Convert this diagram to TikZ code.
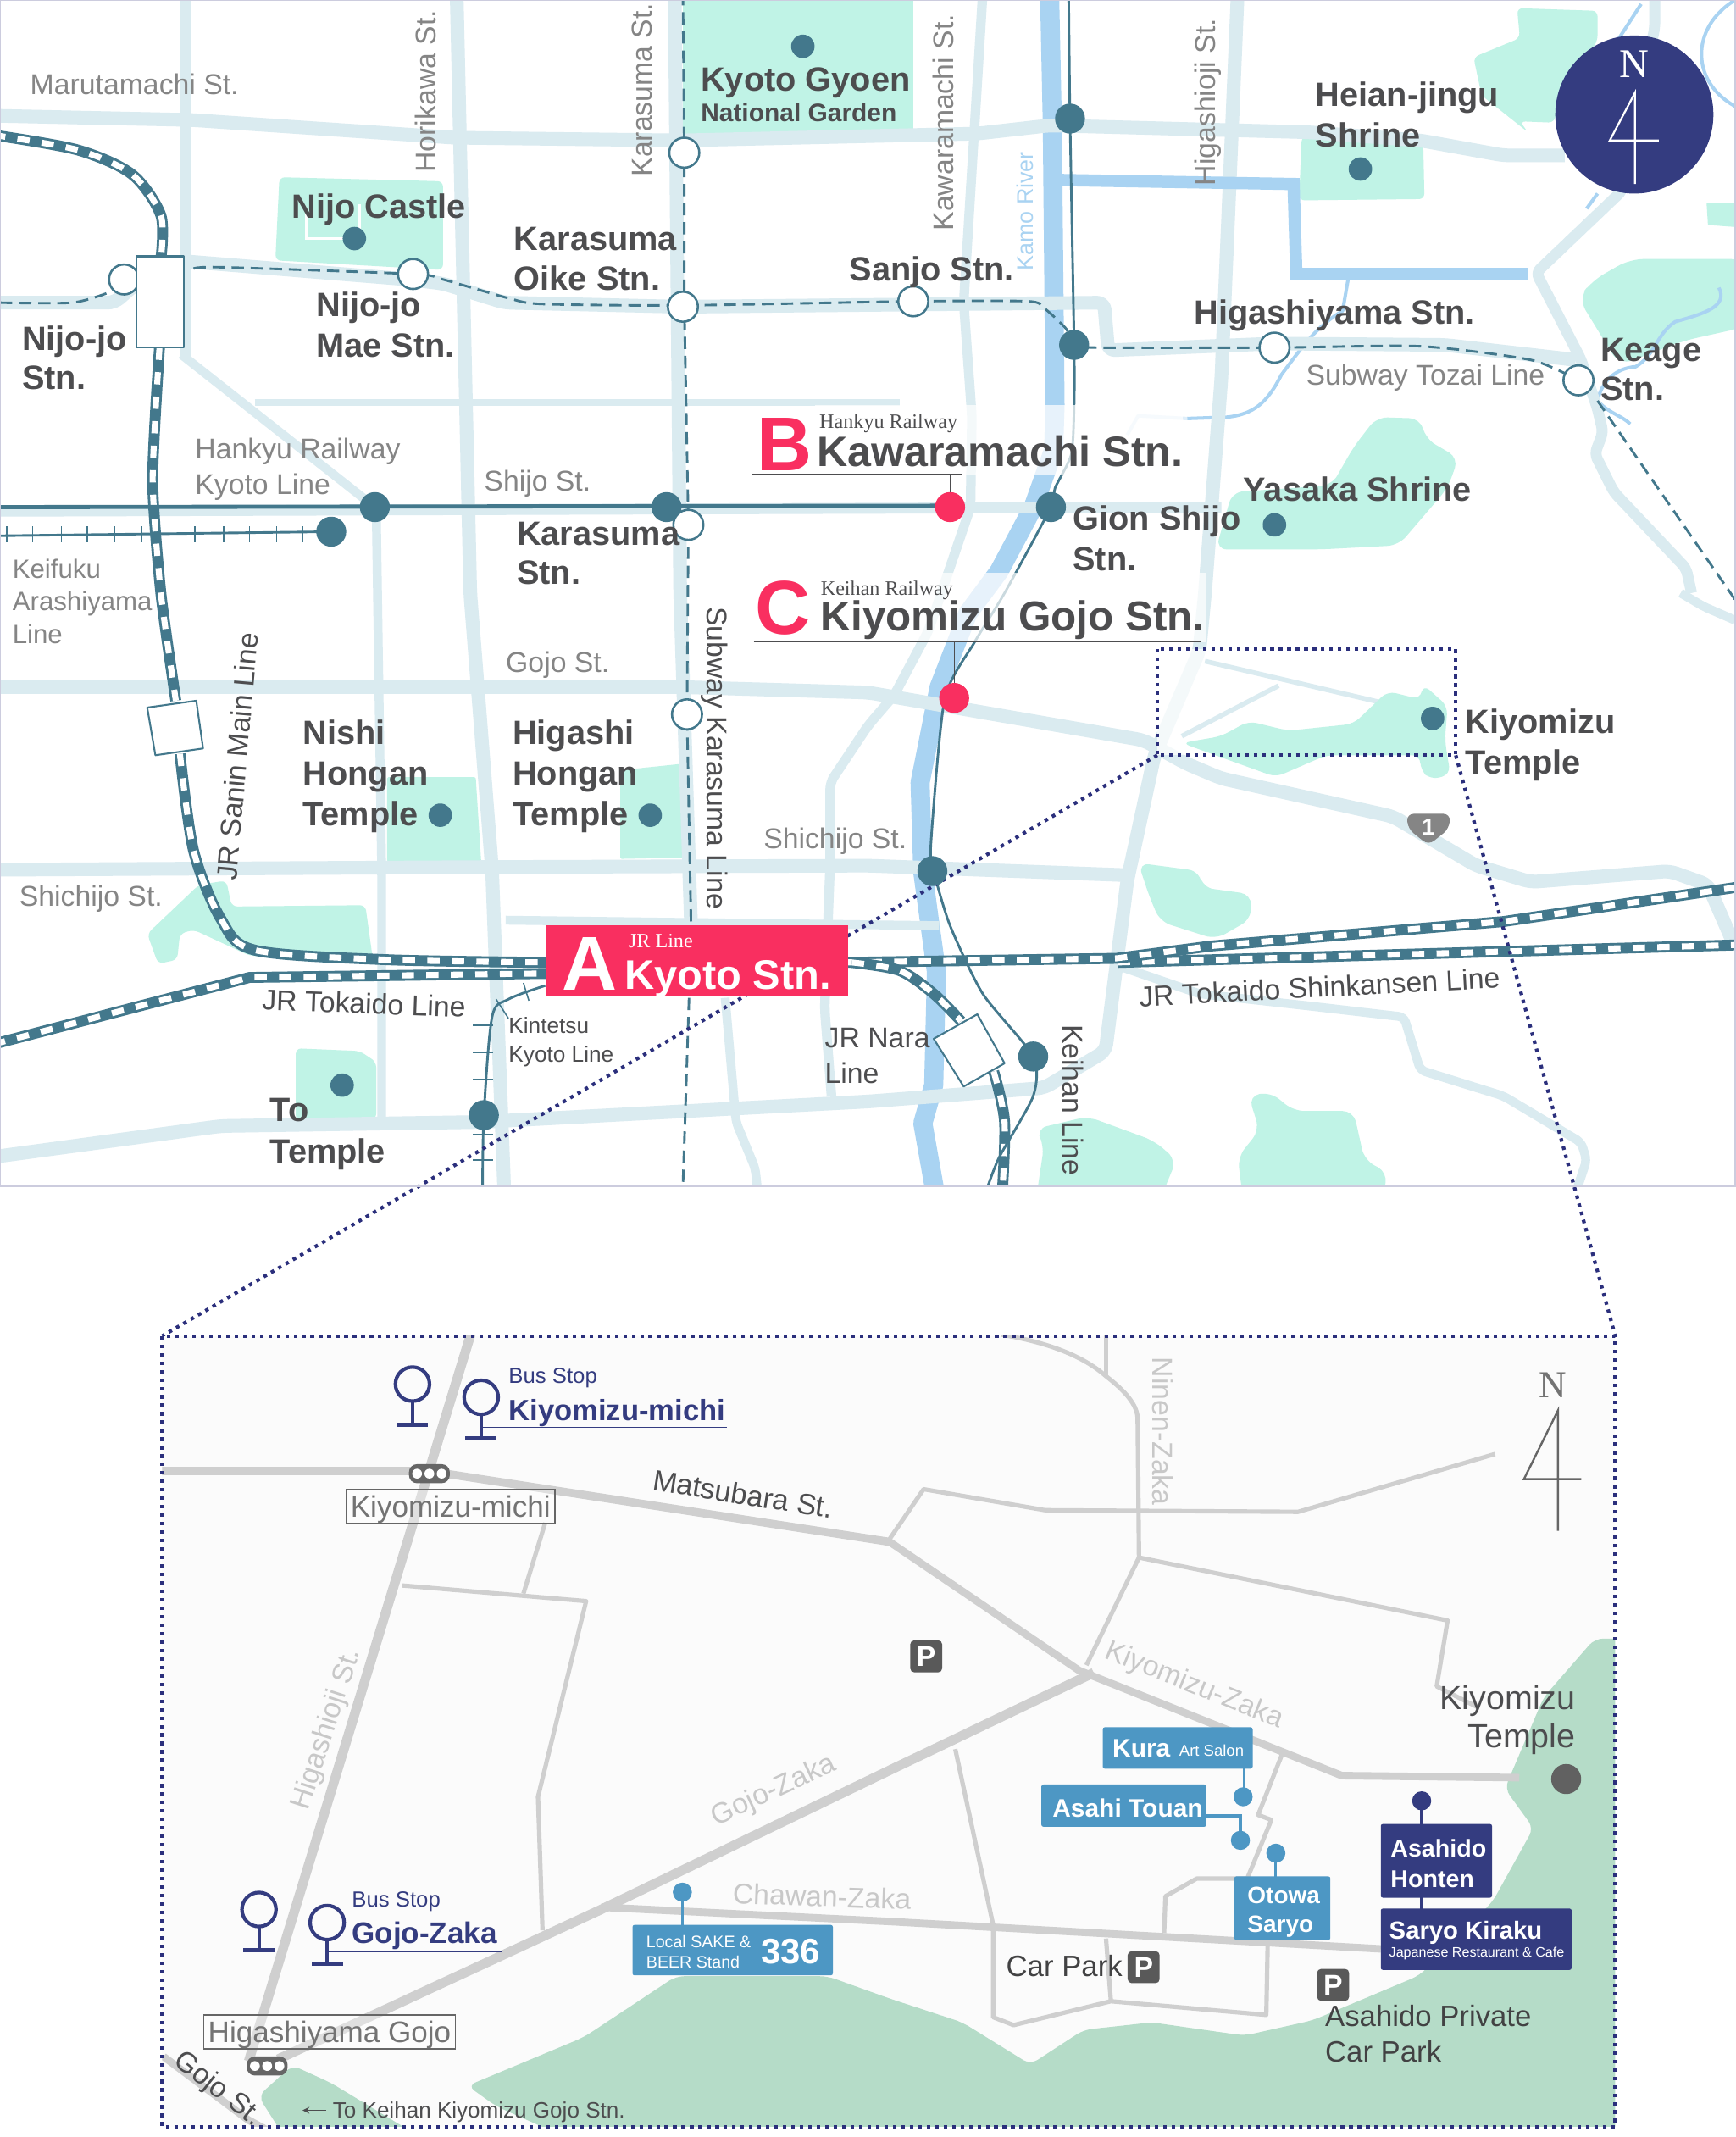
\documentclass[tikz,border=0pt]{standalone}
\usepackage{fontspec}
\usetikzlibrary{arrows.meta}
\setmainfont{Liberation Sans}
\newfontfamily\serifn{Liberation Serif}
\definecolor{roadc}{HTML}{DAEBF0}
\definecolor{waterc}{HTML}{A9D3F2}
\definecolor{greenc}{HTML}{C0F3E6}
\definecolor{tealc}{HTML}{43788C}
\definecolor{redc}{HTML}{F92F60}
\definecolor{navyc}{HTML}{343C80}
\definecolor{dotc}{HTML}{2B2F7C}
\definecolor{labc}{HTML}{4D4D4F}
\definecolor{lightc}{HTML}{858585}
\definecolor{inroad}{HTML}{CFCFCF}
\definecolor{ingreen}{HTML}{B5DCC8}
\definecolor{bluebox}{HTML}{4D97C4}
\definecolor{ltext}{HTML}{C8C8C8}
\tikzset{
 road/.style={draw=roadc,line width=10pt,line join=round,rounded corners=5pt},
 rdm/.style={draw=roadc,line width=6.5pt,line join=round,rounded corners=4pt},
 water/.style={draw=waterc,line width=14pt,line join=round},
 watert/.style={draw=waterc,line width=2.5pt,line join=round},
 parkg/.style={fill=greenc,rounded corners=4pt},
 railout/.style={draw=tealc,line width=8pt,line join=round},
 railin/.style={draw=white,line width=4.4pt,dash pattern=on 9pt off 9pt,line join=round},
 subw/.style={draw=tealc,line width=1.8pt,dash pattern=on 9pt off 5pt},
 thinr/.style={draw=tealc,line width=1.8pt,line join=round},
 dotl/.style={draw=dotc,line width=2.6pt,dash pattern=on 2.6pt off 3.6pt},
 boxst/.style={draw=tealc,fill=white,line width=1.3pt,line join=round},
 txt/.style={anchor=west,inner sep=0pt,text height=11pt,text depth=0pt},
 bold/.style={txt,text=labc,text height=17.7pt,font=\bfseries\fontsize{24.7}{24.7}\selectfont},
 lite/.style={txt,text=lightc,text height=15pt,font=\fontsize{21}{21}\selectfont},
 rlab/.style={inner sep=0pt,text=lightc,text height=15pt,text depth=0pt,font=\fontsize{21}{21}\selectfont},
 iroad/.style={draw=inroad,line width=7pt,line join=round},
 iroadm/.style={draw=inroad,line width=5.5pt,line join=round},
 iroads/.style={draw=inroad,line width=3.2pt,line join=round},
 ilab/.style={inner sep=0pt,text=ltext,text height=15pt,text depth=0pt,font=\fontsize{21}{21}\selectfont},
 idark/.style={txt,text height=15.5pt,text=labc!85!black,font=\fontsize{21.6}{21.6}\selectfont},
 bluetag/.style={fill=bluebox,rounded corners=1.5pt},
 navytag/.style={fill=navyc,rounded corners=1.5pt},
 tagtxt/.style={txt,text height=13.5pt,text=white,font=\bfseries\fontsize{18.6}{18.6}\selectfont},
 bigl/.style={txt,text height=40pt,text=redc,font=\bfseries\fontsize{56}{56}\selectfont},
 bign/.style={txt,text height=22pt,text=labc,font=\bfseries\fontsize{31.2}{31.2}\selectfont},
 smalls/.style={txt,text=labc,font=\serifn\fontsize{15}{15}\selectfont},
 busst/.style={draw=navyc,line width=2.6pt},
 stopbox/.style={draw=black!60,line width=1pt,fill=white,fill opacity=.35,text opacity=1,text=black!55,inner sep=0pt,minimum height=25pt,text height=15.5pt,text depth=0pt,font=\fontsize{21.8}{21.8}\selectfont},
}
\newcommand\cst[2]{\fill[tealc] (#1,#2) circle (11pt);}
\newcommand\lmk[2]{\fill[tealc] (#1,#2) circle (8.6pt);}
\newcommand\ost[2]{\draw[draw=tealc,fill=white,line width=1.6pt] (#1,#2) circle (11pt);}
\newcommand\rst[2]{\fill[redc] (#1,#2) circle (11pt);}
\newcommand\jr[1]{\draw[railout] #1; \draw[railin] #1;}
\newcommand\blab[3]{\node[bold] at (#1,#2) {#3};}
\newcommand\llab[3]{\node[lite] at (#1,#2) {#3};}
\newcommand\pmark[2]{\node[fill=black!65,text=white,rounded corners=3pt,minimum size=23.5pt,inner sep=0pt,font=\bfseries\fontsize{21}{21}\selectfont] at (#1,#2) {P};}
\newcommand\busicon[2]{\draw[busst] (#1,#2) circle (12.5pt); \draw[busst] (#1,#2+12.5) -- (#1,#2+30); \draw[draw=navyc,line width=3pt] (#1-11.5,#2+30) -- (#1+11.5,#2+30);}
\newcommand\pill[2]{\fill[black!60,rounded corners=6pt] (#1-15,#2-7) rectangle (#1+15,#2+7); \foreach \dx in {-9,0,9}{\fill[white] (#1+\dx,#2) circle (3.6pt);}}
\begin{document}
\begin{tikzpicture}[x=1pt,y=-1pt]
\useasboundingbox (0,0) rectangle (1273,1567.6);
\fill[white] (0,0) rectangle (1273,1567.6);
\begin{scope}
\clip (0,0) rectangle (1273,870);
% parks
\fill[parkg] (501,-5) -- (670,-5) -- (670,100) -- (501,100) -- cycle;
\fill[parkg] (205,130) -- (325,133) -- (325,198) -- (202,191) -- cycle;
\draw[white,line width=2pt] (225,152) -- (225,175) -- (252,175) (264,150) -- (264,172);
\fill[parkg] (955,100) -- (1044,100) -- (1045,146) -- (953,147) -- cycle;
\fill[parkg] (1113,6) -- (1172,8) -- (1172,30) -- (1145,70) -- (1140,90) -- (1115,89) -- (1121,97) -- (1087,70) -- (1081,42) -- (1115,28) -- cycle;
\fill[greenc] (1252,149) -- (1280,149) -- (1280,167) -- (1253,165) -- cycle;
\fill[parkg,rounded corners=10pt] (1196,190) -- (1280,190) -- (1280,240) -- (1235,250) -- (1188,268) -- (1158,219) -- (1168,206) -- cycle;
\fill[parkg,rounded corners=8pt] (1010,306) -- (1042,307) -- (1046,322) -- (1070,336) -- (1062,358) -- (1026,400) -- (969,403) -- (892,403) -- (904,361) -- (977,356) -- (993,328) -- cycle;
\fill[parkg,rounded corners=1pt] (284,570) -- (349,570) -- (353,632) -- (284,632) -- cycle;
\fill[parkg,rounded corners=1pt] (455,565) -- (503,560) -- (507,629) -- (455,630) -- cycle;
\fill[parkg] (146,649) -- (166,646) -- (170,665) -- (268,664) -- (274,707) -- (183,701) -- (142,682) -- (132,685) -- (130,704) -- (116,707) -- (108,685) -- cycle;
\fill[parkg] (217,769) -- (264,771) -- (276,779) -- (276,821) -- (217,822) -- cycle;
\fill[parkg,rounded corners=8pt] (835,633) -- (880,639) -- (882,651) -- (918,656) -- (918,674) -- (892,689) -- (851,676) -- (843,657) -- cycle;
\fill[parkg,rounded corners=8pt] (916,804) -- (932,801) -- (949,815) -- (993,815) -- (1001,851) -- (1018,860) -- (1014,880) -- (912,880) -- (908,849) -- (924,829) -- cycle;
\fill[parkg,rounded corners=8pt] (760,828) -- (798,819) -- (847,837) -- (863,851) -- (851,880) -- (760,880) -- (766,840) -- cycle;
% water
\draw[water] (770,-5) -- (772,90) -- (774,297) -- (773,330) -- (758,372) -- (733,419) -- (710,450) -- (689,504) -- (675,574) -- (677,640) -- (687,713) -- (685,796) -- (677,824) -- (687,880);
\draw[watert] (989,205) -- (985,228) .. controls (965,240) and (955,255) .. (940,275) .. controls (930,295) and (920,304) .. (900,306) -- (871,307);
\draw[watert,opacity=.35] (871,307) -- (835,305) -- (827,319);
\draw[watert] (1204,3) -- (1180,40) (1172,142) -- (1164,153);
\draw[watert] (1273,0) .. controls (1240,20) and (1240,60) .. (1273,78);
\draw[watert] (1261,211) .. controls (1268,225) and (1250,230) .. (1229,236) .. controls (1215,245) and (1215,260) .. (1200,269) .. controls (1185,270) and (1175,280) .. (1172,294) .. controls (1180,303) and (1190,305) .. (1196,311);
% roads
\draw[road] (0,85) -- (140,88) -- (333,101) -- (500,103) -- (717,98) -- (770,92) -- (960,97) -- (1042,103) -- (1103,114) -- (1148,114);
\draw[road] (0,222) -- (84,222) -- (100,208);
\draw[road] (140,192) -- (300,205) -- (325,208) -- (370,222) -- (500,225) -- (810,222) -- (813,257) -- (935,252) -- (1060,253) -- (1156,264);
\draw[road,line width=8pt] (0,375) -- (896,372);
\draw[road] (0,504) -- (500,504) -- (637,508) -- (689,517) -- (839,543) -- (870,560) -- (896,571) -- (1022,599) -- (1083,635) -- (1123,647) -- (1225,639) -- (1253,649) -- (1273,695);
\draw[road] (0,638) -- (360,636) -- (637,635) -- (827,642);
\draw[rdm,line width=5pt] (187,295) -- (660,295);
\draw[rdm] (133,260) -- (275,372);
\draw[rdm] (371,675) -- (689,679);
\draw[road] (0,848) -- (162,826) -- (353,823) -- (637,808) -- (766,798) -- (811,771) -- (827,646) -- (847,554) -- (880,477) -- (884,435) -- (896,278) -- (908,-5);
\draw[rdm] (819,708) -- (880,729) -- (961,738) -- (1030,746) -- (1042,785) -- (1103,804) -- (1160,838) -- (1164,851) -- (1156,875);
\draw[rdm,line width=9pt] (136,-5) -- (136,262);
\draw[road] (335,-5) -- (345,435) -- (361,638) -- (370,875);
\draw[rdm] (276,372) -- (280,638) -- (280,826);
\draw[road] (495,-5) -- (499,435) -- (507,680);
\draw[road,line width=7pt] (721,-5) -- (707,222) -- (713,305) -- (712,372) -- (681,463) -- (656,510) -- (637,532) -- (609,574) -- (609,635) -- (605,740) -- (610,804);
\draw[rdm] (532,732) -- (540,823) -- (554,857) -- (556,875);
\draw[rdm,line width=8pt] (1214,-5) -- (1214,20) -- (1190,140) -- (1127,200) -- (1160,264) -- (1172,300) -- (1176,317) -- (1170,333) -- (1184,361) -- (1237,417) -- (1241,435);
\draw[rdm] (1233,435) -- (1250,445) -- (1273,455);
% canal over road
\draw[waterc,line width=9pt,line join=miter] (776,132) -- (949,135) -- (951,201) -- (1121,201);
% overview rectangle tint
\fill[white,opacity=.72] (849,476) rectangle (1068,554);
\draw[roadc,line width=3.5pt] (884,485) -- (1012,515) (938,503) -- (867,540);
\fill[parkg,rounded corners=6pt] (867,545) -- (896,540) -- (916,529) -- (945,536) -- (993,531) -- (1018,507) -- (1042,513) -- (1044,502) -- (1062,518) -- (1060,543) -- (1064,568) -- (1050,572) -- (1042,565) -- (1042,554) -- (973,554) -- (936,570) -- (900,557) -- cycle;
% rails
\jr{plot[smooth,tension=.5] coordinates {(-5,99) (57,110) (97,128) (118,158) (118,190)}}
\jr{plot[smooth,tension=.4] coordinates {(117,255) (112,352) (118,435) (129,514)}}
\jr{plot[smooth,tension=.5] coordinates {(132,553) (142,624) (162,674) (187,697) (284,704) (405,706)}}
\jr{(-5,766) -- (183,717) -- (405,714)}
\jr{(820,706) -- (1280,693)}
\jr{(620,706) -- (819,703) -- (888,694) -- (1103,676) -- (1280,650)}
\jr{plot[smooth,tension=.5] coordinates {(625,706) (660,712) (685,729) (705,749)}}
\jr{plot[smooth,tension=.5] coordinates {(729,786) (737,823) (735,880)}}
% thin lines
\draw[thinr] plot[smooth,tension=.4] coordinates {(784,-5) (785,87) (788,253) (788,297) (786,333) (774,358) (771,372) (737,435) (715,471) (693,513) (683,618) (685,639) (697,679) (721,729) (758,775) (758,804) (733,849) (723,875)};
\draw[tealc,line width=3pt] (0,372) -- (697,371);
\draw[thinr] (0,393) -- (243,390);
\foreach \x in {5,24,45,64,84,104,124,143,164,183,203,222}{\draw[tealc,line width=1pt] (\x,386) -- (\x,398);}
\draw[thinr] plot[smooth,tension=.5] coordinates {(400,723) (373,733) (361,746) (355,818) (354,875)};
\foreach \y in {752,772,792,832,851}{\draw[tealc,line width=1pt] (347,\y) -- (362,\y);}
\draw[tealc,line width=1pt] (384,721) -- (388,734) (364,733) -- (373,747);
% subway
\draw[subw] plot[smooth,tension=.4] coordinates {(0,222) (53,222) (81,214) (91,205)};
\draw[subw] plot[smooth,tension=.4] coordinates {(142,197) (162,196) (303,201) (325,205) (374,219) (398,223) (501,224) (670,221) (754,221) (766,226) (782,241) (788,253) (806,255) (935,255) (1042,254) (1123,264) (1158,279)};
\draw[subw] (1172,294) -- (1273,440);
\draw[subw] (501,-5) -- (502,112) -- (502,224) -- (505,385) -- (504,524) -- (507,680) (505.5,732) -- (501,870);
% label patches
\fill[white,opacity=.72] (598,297) rectangle (868,349);
\fill[white,opacity=.72] (600,420) rectangle (885,471);
% dotted
\draw[dotl] (849,476) rectangle (1068,554);
\end{scope}
\draw[dotl] (849,554) -- (119,980);
\draw[dotl] (1068,554) -- (1185,980);
\begin{scope}
\clip (0,0) rectangle (1273,870);
% stations
\ost{91}{205}
\draw[boxst] (100,188) rectangle (135,255);
\draw[boxst] (108,519) -- (144,514) -- (149,549) -- (114,554) -- cycle;
\draw[boxst] (685,762) -- (717,744) -- (737,780) -- (707,797) -- cycle;
\foreach \a/\b in {785/87,788/253,275/372,489/372,771/372,243/390,684/639,758/775,355/818}{\cst{\a}{\b}}
\foreach \a/\b in {502/112,303/201,501/225,670/221,935/255,1158/279,505/385,504/524}{\ost{\a}{\b}}
\foreach \a/\b in {589/34,260/175,998/124,935/385,1051/527,323/598,477/598,251/796}{\lmk{\a}{\b}}
\draw[labc,line width=.9pt] (552,348) -- (706,348) (553,471) -- (881,471);
\draw[labc,line width=.8pt] (697,348) -- (697,362) (700,471) -- (700,502);
\rst{697}{372}
\rst{700}{512}
% shield
\fill[black!48,rounded corners=5pt] (1032,597) -- (1064,597) -- (1063,608) -- (1048,620) -- (1033,608) -- cycle;
\node[inner sep=0pt,text=white,font=\bfseries\fontsize{17}{17}\selectfont] (shield) at (1048,607) {1};
% compass
\fill[navyc] (1199,84) circle (58pt);
\node[inner sep=0pt,text=white,font=\serifn\fontsize{30}{30}\selectfont] (compN) at (1199,47) {N};
\draw[white,line width=1.4pt,line join=miter] (1199.5,135) -- (1199.5,68) -- (1181,103) -- (1217,103);
% Kyoto box
\fill[redc] (401,679) rectangle (622,731);
\node[txt,text height=40pt,text=white,font=\bfseries\fontsize{56}{56}\selectfont] (kA) at (412,706) {A};
\node[txt,text=white,font=\serifn\fontsize{15}{15}\selectfont] (kJR) at (461,690) {JR Line};
\node[txt,text height=21pt,text=white,font=\bfseries\fontsize{30.3}{30.3}\selectfont] (kK) at (458,715) {Kyoto Stn.};
% big labels
\node[bigl] (bB) at (555,325) {B};
\node[smalls] (bH) at (601,309) {Hankyu Railway};
\node[bign] (bK) at (599,331) {Kawaramachi Stn.};
\node[bigl] (bC) at (554,445) {C};
\node[smalls] (bK2) at (602,431) {Keihan Railway};
\node[bign,font=\bfseries\fontsize{30.7}{30.7}\selectfont] (bG) at (602,452) {Kiyomizu Gojo Stn.};
% bold labels
\blab{514}{58}{Kyoto Gyoen}
\node[bold,text height=13pt,font=\bfseries\fontsize{18.6}{18.6}\selectfont] (nat) at (514,83) {National Garden};
\blab{214}{151}{Nijo Castle}
\blab{377}{175}{Karasuma}
\blab{377}{204}{Oike Stn.}
\blab{232}{223}{Nijo-jo}
\blab{232}{253}{Mae Stn.}
\blab{16}{248}{Nijo-jo}
\blab{16}{277}{Stn.}
\blab{623}{197}{Sanjo Stn.}
\blab{965}{69}{Heian-jingu}
\blab{965}{99}{Shrine}
\blab{876}{229}{Higashiyama Stn.}
\blab{1174}{256}{Keage}
\blab{1174}{285}{Stn.}
\blab{912}{359}{Yasaka Shrine}
\blab{787}{380}{Gion Shijo}
\blab{787}{410}{Stn.}
\blab{379}{391}{Karasuma}
\blab{379}{420}{Stn.}
\blab{1075}{529}{Kiyomizu}
\blab{1075}{559}{Temple}
\blab{222}{537}{Nishi}
\blab{222}{567}{Hongan}
\blab{222}{597}{Temple}
\blab{376}{537}{Higashi}
\blab{376}{567}{Hongan}
\blab{376}{597}{Temple}
\blab{198}{814}{To}
\blab{198}{844}{Temple}
% light labels
\llab{22}{62}{Marutamachi St.}
\llab{355}{353}{Shijo St.}
\llab{371}{486}{Gojo St.}
\llab{560}{615}{Shichijo St.}
\llab{14}{657}{Shichijo St.}
\llab{958}{275}{Subway Tozai Line}
\llab{143}{329}{Hankyu Railway}
\llab{143}{355}{Kyoto Line}
\node[lite,text height=14pt,font=\fontsize{19.4}{19.4}\selectfont] (kf1) at (9,417) {Keifuku};
\node[lite,text height=14pt,font=\fontsize{19.4}{19.4}\selectfont] (kf2) at (9,441) {Arashiyama};
\node[lite,text height=14pt,font=\fontsize{19.4}{19.4}\selectfont] (kf3) at (9,465) {Line};
\node[rlab] (r1) at (312,67) [rotate=90] {Horikawa St.};
\node[rlab] (r2) at (471,66) [rotate=90] {Karasuma St.};
\node[rlab] (r3) at (692,90) [rotate=90] {Kawaramachi St.};
\node[rlab] (r4) at (884,75) [rotate=90] {Higashioji St.};
\node[rlab,text=waterc,text height=12pt,font=\fontsize{16.7}{16.7}\selectfont] (r5) at (752,155) [rotate=90] {Kamo River};
\node[rlab,text=labc] (r6) at (526,556) [rotate=-90] {Subway Karasuma Line};
\node[rlab,text=labc] (r7) at (174,555) [rotate=85] {JR Sanin Main Line};
\node[rlab,text=labc] (r8) at (787,807) [rotate=-90] {Keihan Line};
\node[rlab,text=labc] (r9) at (267,736) [rotate=-2] {JR Tokaido Line};
\node[rlab,text=labc] (r10) at (968,724) [rotate=3] {JR Tokaido Shinkansen Line};
\node[lite,text=labc,text height=11.7pt,font=\fontsize{16.3}{16.3}\selectfont] (kt1) at (373,752) {Kintetsu};
\node[lite,text=labc,text height=11.7pt,font=\fontsize{16.3}{16.3}\selectfont] (kt2) at (373,773) {Kyoto Line};
\node[lite,text=labc,font=\fontsize{21}{21}\selectfont] (jn1) at (605,761) {JR Nara};
\node[lite,text=labc,font=\fontsize{21}{21}\selectfont] (jn2) at (605,787) {Line};
\end{scope}
% ===== inset =====
\fill[black!1.5] (119,980) rectangle (1185,1560);
\begin{scope}
\clip (119,980) rectangle (1185,1560);
\fill[ingreen,rounded corners=6pt] (343,1530) -- (428.5,1494.3) -- (496,1449.6) -- (607,1449.6) -- (652.6,1466) -- (706,1483.5) -- (756,1514.4) -- (795,1489) -- (845,1483.5) -- (913,1493.2) -- (963,1482) -- (1041.5,1449) -- (1095,1395) -- (1125,1341) -- (1104,1312) -- (1132.5,1245) -- (1170,1202) -- (1190,1202) -- (1190,1570) -- (420,1570) -- (364,1545) -- cycle;
\fill[ingreen,rounded corners=6pt] (189.5,1537.5) -- (214.5,1515) -- (243,1528) -- (304,1565) -- (207,1565) -- cycle;
\draw[iroadm] (120,1508.6) -- (182,1555) -- (195,1562);
\draw[iroads] (400,1117) -- (384,1169);
\draw[iroads] (295,1163) -- (430,1174.5) -- (394.7,1318) -- (398,1416);
\draw[iroads] (734.6,979) .. controls (770,985) and (795,995) .. (811.4,1009.5) .. controls (825,1020) and (834,1030) .. (834.6,1040) -- (835.6,1142.5) -- (797,1221.5);
\draw[iroads] (811.4,979) -- (811.4,1009.5);
\draw[iroads] (652.6,1129) -- (677.6,1092.4) -- (766.8,1107.8) -- (952.3,1109) -- (1096.8,1066.6);
\draw[iroads] (835.6,1142.5) -- (1062,1188.7) -- (1054,1237) -- (1084,1252.3);
\draw[iroads] (700.8,1283) -- (728.6,1412) -- (728.6,1479.7) -- (743.6,1485.5) -- (815,1468) -- (929,1478) -- (930,1426);
\draw[iroads] (811.4,1422) -- (815,1468);
\draw[iroads] (854,1418) -- (855,1391) -- (878,1378) -- (915,1378) -- (932.7,1335) -- (923,1331.3) -- (940.5,1287);
\draw[iroad] (346.5,975) -- (182.4,1512);
\draw[iroad,line width=6pt] (119,1079) -- (314,1079) -- (652.6,1131);
\draw[iroad] (204,1510.5) -- (441,1400.7) -- (652.6,1298.6) -- (802.4,1227);
\draw[iroadm] (652.6,1131) -- (791.7,1225.4) -- (984.4,1302.5) -- (1114.6,1304);
\draw[iroadm] (441,1399) -- (652.6,1409.5) -- (1013,1429.6);
\end{scope}
\draw[dotl] (119,980) rectangle (1185,1560);
% inset icons
\busicon{302.6}{1015.3}
\busicon{353}{1025}
\busicon{190}{1400.7}
\busicon{240}{1410.3}
\draw[navyc,line width=1.1pt] (353,1047) -- (533,1047) (241,1431.5) -- (368.6,1431.5);
\node[txt,text=navyc,text height=11.5pt,font=\fontsize{16}{16}\selectfont] (bs1) at (373,1009) {Bus Stop};
\node[txt,text=navyc,text height=15.5pt,font=\bfseries\fontsize{21.5}{21.5}\selectfont] (bs2) at (373,1034) {Kiyomizu-michi};
\node[txt,text=navyc,text height=11.5pt,font=\fontsize{16}{16}\selectfont] (bs3) at (258,1393) {Bus Stop};
\node[txt,text=navyc,text height=15.5pt,font=\bfseries\fontsize{21.8}{21.8}\selectfont] (bs4) at (258,1418) {Gojo-Zaka};
\pill{315}{1081}
\pill{196}{1515.5}
\node[stopbox,minimum width=153pt] (km) at (330.5,1105) {Kiyomizu-michi};
\node[stopbox,minimum width=184.4pt] (hg) at (241.8,1490.5) {Higashiyama Gojo};
% inset labels
\node[inner sep=0pt,text=labc,text height=15pt,text depth=0pt,font=\fontsize{21.4}{21.4}\selectfont,rotate=-9] (mb) at (545,1096) {Matsubara St.};
\node[ilab,rotate=-22] (kz) at (877,1235) {Kiyomizu-Zaka};
\node[ilab,rotate=-90] (nz) at (853,1050) {Ninen-Zaka};
\node[ilab,rotate=25] (gz) at (567,1312) {Gojo-Zaka};
\node[ilab,rotate=-2] (cz) at (603,1391) {Chawan-Zaka};
\node[ilab,rotate=72] (hs) at (238,1268) {Higashioji St.};
\node[inner sep=0pt,text=labc,text height=15pt,text depth=0pt,font=\fontsize{21}{21}\selectfont,rotate=-38] (gs) at (161,1531) {Gojo St.};
\node[txt,text=labc,text height=11.5pt,font=\fontsize{16.2}{16.2}\selectfont] (tk) at (244,1548) {To Keihan Kiyomizu Gojo Stn.};
\draw[labc,line width=1pt,-{Stealth[length=5pt,width=5pt]}] (239,1548) -- (222,1548);
\node[idark] (cp) at (738,1442) {Car Park};
\node[idark] (ap1) at (972,1479) {Asahido Private};
\node[idark] (ap2) at (972,1505) {Car Park};
\node[anchor=east,inner sep=0pt,text height=17.5pt,text depth=0pt,text=labc,font=\fontsize{24.5}{24.5}\selectfont] (kt3) at (1156,1245) {Kiyomizu};
\node[anchor=east,inner sep=0pt,text height=17.5pt,text depth=0pt,text=labc,font=\fontsize{24.5}{24.5}\selectfont] (kt4) at (1156,1273) {Temple};
\fill[black!62] (1149,1305) circle (11pt);
\pmark{679.5}{1215}
\pmark{839}{1443}
\pmark{978}{1456}
\node[inner sep=0pt,text=black!55,font=\serifn\fontsize{28}{28}\selectfont] (iN) at (1139,1016) {N};
\draw[black!60,line width=1.5pt,line join=miter] (1143,1123) -- (1143,1034.6) -- (1118,1085) -- (1160,1085);
% tags
\draw[bluebox,line width=2pt] (500.6,1388) -- (500.6,1415);
\fill[bluebox] (500.6,1388) circle (7pt);
\fill[bluetag] (464,1412) rectangle (611,1449);
\node[txt,text=white,text height=9pt,font=\fontsize{12.2}{12.2}\selectfont] (s1) at (474,1424) {Local SAKE \&};
\node[txt,text=white,text height=9pt,font=\fontsize{12.2}{12.2}\selectfont] (s2) at (474,1439) {BEER Stand};
\node[txt,text=white,text height=18.5pt,font=\bfseries\fontsize{26}{26}\selectfont] (s3) at (558,1431) {336};
\draw[bluebox,line width=2pt] (913,1295) -- (913,1318);
\fill[bluebox] (912,1318) circle (7pt);
\fill[bluetag] (809,1267) rectangle (919,1297.4);
\node[tagtxt] (ku) at (816,1282) {Kura};
\node[txt,text=white,text height=8.5pt,font=\fontsize{11.5}{11.5}\selectfont] (ku2) at (865,1284) {Art Salon};
\draw[bluebox,line width=2pt] (880,1332) -- (910,1332) -- (910,1350);
\fill[bluebox] (910,1350) circle (7pt);
\fill[bluetag] (764,1309) rectangle (885,1340);
\node[tagtxt] (as) at (772,1326) {Asahi Touan};
\draw[bluebox,line width=2pt] (936,1359) -- (936,1380);
\fill[bluebox] (936,1359.4) circle (7pt);
\fill[bluetag] (905.5,1376.4) rectangle (976,1423);
\node[tagtxt,text height=12.5pt,font=\bfseries\fontsize{17.4}{17.4}\selectfont] (ot1) at (915,1390) {Otowa};
\node[tagtxt,text height=12.5pt,font=\bfseries\fontsize{17.4}{17.4}\selectfont] (ot2) at (915,1411) {Saryo};
\draw[navyc,line width=2pt] (1043,1321) -- (1043,1402);
\fill[navyc] (1043,1321) circle (7pt);
\fill[navytag] (1013,1338) rectangle (1094.6,1392);
\node[tagtxt,text height=12.8pt,font=\bfseries\fontsize{17.8}{17.8}\selectfont] (ah1) at (1020,1356) {Asahido};
\node[tagtxt,text height=12.8pt,font=\bfseries\fontsize{17.8}{17.8}\selectfont] (ah2) at (1020,1378) {Honten};
\fill[navytag] (1013,1400) rectangle (1153,1445);
\node[tagtxt,text height=13pt,font=\bfseries\fontsize{18.2}{18.2}\selectfont] (sk1) at (1019,1416) {Saryo Kiraku};
\node[txt,text=white,text height=7pt,font=\fontsize{10}{10}\selectfont] (sk2) at (1019,1432) {Japanese Restaurant \& Cafe};
% map frame
\draw[draw=blue!35!black!20,line width=1pt] (0,0) rectangle (1273,870);
\end{tikzpicture}
\end{document}
